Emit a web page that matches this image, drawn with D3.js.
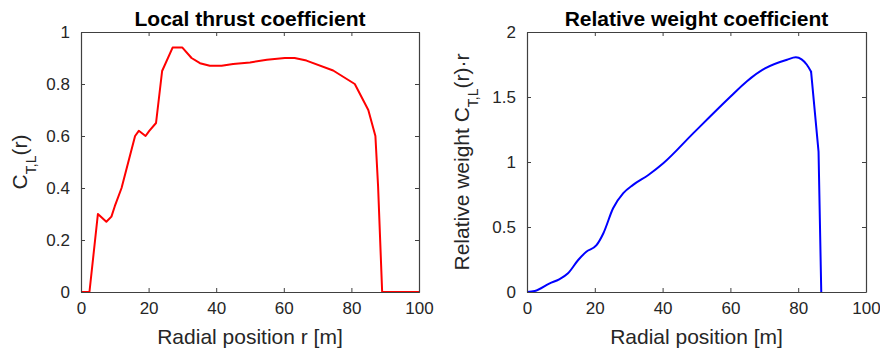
<!DOCTYPE html>
<html><head><meta charset="utf-8">
<script src="https://cdn.jsdelivr.net/npm/d3@7"></script>
<style>
html,body{margin:0;padding:0;background:#fff;}
svg{display:block;}
text{font-family:"Liberation Sans",Arial,Helvetica,sans-serif;}
</style></head>
<body>
<svg id="chart" width="880" height="349"></svg>
<script>
// ---- Data ----
const thrustR  = [0, 2.5, 5, 7.5, 9, 10, 12, 16, 17.1, 19.1, 20.2, 22.2, 24, 27.1, 30, 32.7, 35.2, 38.1, 41.6, 45, 50, 55, 60.3, 63.2, 66.7, 74.6, 81, 85, 87.1, 87.9, 89.1, 100];
const thrustCT = [0, 0, 0.30, 0.27, 0.29, 0.33, 0.40, 0.60, 0.62, 0.60, 0.62, 0.65, 0.85, 0.94, 0.94, 0.90, 0.88, 0.87, 0.87, 0.877, 0.883, 0.893, 0.90, 0.90, 0.89, 0.852, 0.80, 0.70, 0.60, 0.405, 0, 0];

const weightR = [0, 2.3, 6.7, 9.5, 12.1, 15.1, 17.5, 20.5, 22.5, 25.4, 28.4, 31.3, 35.8, 40.2, 49, 59.9, 64.8, 70.2, 76.7, 79.3, 81, 82.5, 83.8, 86.0, 86.8];
const weightW = [0, 0.008, 0.067, 0.098, 0.144, 0.246, 0.31, 0.36, 0.45, 0.644, 0.76, 0.824, 0.90, 0.99, 1.22, 1.50, 1.62, 1.72, 1.787, 1.805, 1.79, 1.75, 1.695, 1.08, 0];
const weightSmoothEnd = 22; // index of the corner at r = 83.8 where the curve turns into straight drops

const xTicks = [0, 20, 40, 60, 80, 100];
const yTicksLeft = [0, 0.2, 0.4, 0.6, 0.8, 1];
const yTicksRight = [0, 0.5, 1, 1.5, 2];

const titles = ["Local thrust coefficient", "Relative weight coefficient"];
const xLabels = ["Radial position r [m]", "Radial position [m]"];

// ---- Layout ----
const svg = d3.select("#chart");
const axisColor = "#404040";
const textColor = "#262626";
const panels = [
  {x0: 81, x1: 419, xs: thrustR, ys: thrustCT, yMax: 1, yTicks: yTicksLeft, color: "#ff0000", split: thrustR.length - 1,
   title: titles[0], xlab: xLabels[0], ylabX: 27, ylab: ["C", "T,L", "(r)"], smooth: false},
  {x0: 527, x1: 866, xs: weightR, ys: weightW, yMax: 2, yTicks: yTicksRight, color: "#0000ff", split: weightSmoothEnd,
   title: titles[1], xlab: xLabels[1], ylabX: 469, ylab: ["Relative weight C", "T,L", "(r)\u00b7r"], smooth: true}
];
const y0 = 292, y1 = 32;

panels.forEach((p, i) => {
  const x = d3.scaleLinear().domain([0, 100]).range([p.x0, p.x1]);
  const y = d3.scaleLinear().domain([0, p.yMax]).range([y0, y1]);
  const g = svg.append("g");

  const clipId = "clip" + i;
  svg.append("clipPath").attr("id", clipId).append("rect")
    .attr("x", p.x0).attr("y", y1 - 2).attr("width", p.x1 - p.x0 + 1).attr("height", y0 - y1 + 3);

  const pts = p.xs.map((r, k) => [r, p.ys[k]]);
  const seg1 = pts.slice(0, p.split + 1);
  const seg2 = pts.slice(p.split);
  const line1 = d3.line().x(d => x(d[0])).y(d => y(d[1])).curve(p.smooth ? d3.curveMonotoneX : d3.curveLinear);
  const line2 = d3.line().x(d => x(d[0])).y(d => y(d[1])).curve(d3.curveLinear);
  [[seg1, line1], [seg2, line2]].forEach(([s, ln]) => {
    if (s.length < 2) return;
    g.append("path").datum(s).attr("d", ln)
      .attr("fill", "none").attr("stroke", p.color).attr("stroke-width", 2)
      .attr("stroke-linejoin", "round").attr("stroke-linecap", "round")
      .attr("clip-path", `url(#${clipId})`);
  });

  // axes (inner ticks, box)
  const tl = 4;
  const bottom = d3.axisBottom(x).tickValues(xTicks).tickSizeInner(-tl).tickSizeOuter(0).tickPadding(10).tickFormat(d3.format("d"));
  const top = d3.axisTop(x).tickValues(xTicks).tickSizeInner(-tl).tickSizeOuter(0).tickFormat("");
  const left = d3.axisLeft(y).tickValues(p.yTicks).tickSizeInner(-tl).tickSizeOuter(0).tickPadding(11).tickFormat(d => String(d));
  const right = d3.axisRight(y).tickValues(p.yTicks).tickSizeInner(-tl).tickSizeOuter(0).tickFormat("");

  const ax = [
    g.append("g").attr("transform", `translate(0,${y0})`).call(bottom),
    g.append("g").attr("transform", `translate(0,${y1})`).call(top),
    g.append("g").attr("transform", `translate(${p.x0},0)`).call(left),
    g.append("g").attr("transform", `translate(${p.x1},0)`).call(right)
  ];
  ax.forEach(a => {
    a.select(".domain").attr("stroke", axisColor).attr("stroke-width", 1.2);
    a.selectAll(".tick line").attr("stroke", axisColor).attr("stroke-width", 1);
    a.selectAll(".tick text").attr("fill", textColor).style("font-size", "17px")
      .style("font-family", '"Liberation Sans",Arial,sans-serif');
  });

  // title
  g.append("text").attr("x", (p.x0 + p.x1) / 2).attr("y", 26)
    .attr("text-anchor", "middle").attr("font-weight", "bold").attr("font-size", 21)
    .attr("fill", "#000").text(p.title);

  // x label
  g.append("text").attr("x", (p.x0 + p.x1) / 2).attr("y", 344)
    .attr("text-anchor", "middle").attr("font-size", 21)
    .attr("fill", textColor).text(p.xlab);

  // y label
  const yl = g.append("text")
    .attr("transform", `translate(${p.ylabX},${(y0 + y1) / 2}) rotate(-90)`)
    .attr("text-anchor", "middle").attr("font-size", 21).attr("fill", textColor);
  yl.append("tspan").text(p.ylab[0]);
  yl.append("tspan").attr("font-size", 14).attr("dy", 9).text(p.ylab[1]);
  yl.append("tspan").attr("dy", -9).text(p.ylab[2]);
});
</script>
</body></html>
